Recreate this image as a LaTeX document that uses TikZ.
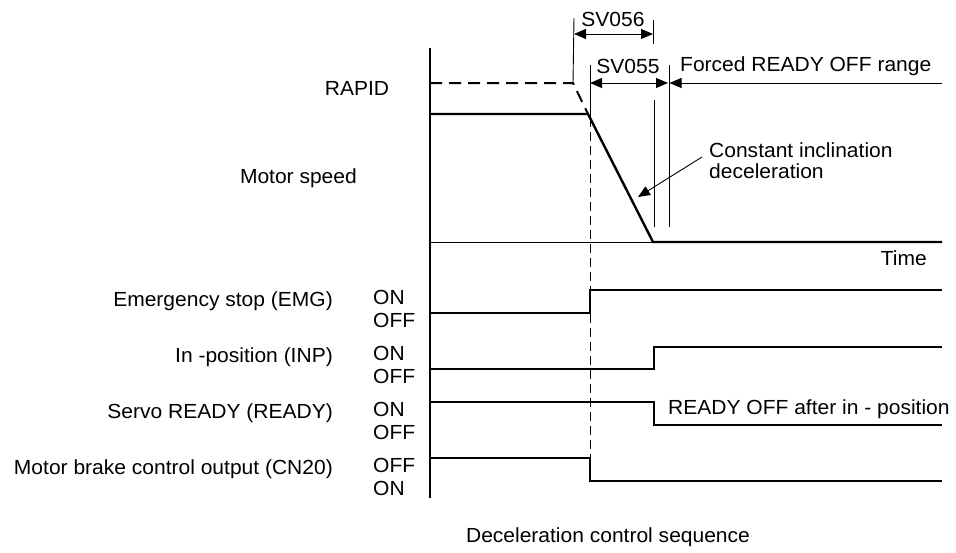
\documentclass[tikz,border=0pt]{standalone}
\usepackage{fontspec}
\setmainfont{Liberation Sans}[FakeStretch=1.03]
\usetikzlibrary{arrows.meta}
\begin{document}
\begin{tikzpicture}[x=1pt,y=-1pt,
  txt/.style={inner sep=0pt,font=\fontsize{20.4}{20.5}\selectfont},
  thin line/.style={line width=0.9pt},
  thick line/.style={line width=2.4pt},
  sig/.style={line width=2.4pt},
  dim/.style={line width=0.9pt,{Triangle[length=12pt,width=10pt]}-{Triangle[length=12pt,width=10pt]}},
  ldim/.style={line width=0.9pt,-{Triangle[length=12pt,width=10pt]}},
]
\useasboundingbox (0,0) rectangle (956,552);
% axes
\coordinate (axtop) at (430,48);
\coordinate (axbot) at (430,498);
\draw[line width=1.4pt] (axtop) -- (axbot);
\coordinate (t0) at (430,242);
\coordinate (tend) at (942,242);
\coordinate (tstop) at (653,242);
\draw[thin line] (t0) -- (tend);
% speed profile
\coordinate (s0) at (430,114);
\coordinate (s1) at (588,114);
\draw[thick line,line join=miter] (s0) -- (s1) -- (tstop) -- (tend);
\coordinate (r0) at (430,83);
\coordinate (r1) at (573,83);
\draw[line width=2pt,dash pattern=on 12pt off 7pt] (r0) -- (r1) -- (s1);
% extension lines
\coordinate (e56a) at (574,18);
\draw[thin line] (e56a) -- (r1);
\coordinate (e56b) at (653,20);
\coordinate (e56c) at (653,44);
\draw[thin line] (e56b) -- (e56c);
\coordinate (e55a) at (590,65);
\coordinate (e55b) at (590,118);
\coordinate (e55c) at (590,458);
\draw[thin line] (e55a) -- (e55b);
\draw[line width=0.8pt,dash pattern=on 9pt off 5pt] (e55b) -- (e55c);
\coordinate (v1a) at (654,100);
\coordinate (v1b) at (654,227);
\coordinate (v2a) at (669,65);
\coordinate (v2b) at (669,227);
\draw[thin line] (v1a) -- (v1b);
\draw[thin line] (v2a) -- (v2b);
% dimension arrows
\coordinate (d56l) at (574,34);
\coordinate (d56r) at (653,34);
\draw[dim] (d56l) -- (d56r);
\coordinate (d55l) at (590,83);
\coordinate (d55r) at (668,83);
\draw[dim] (d55l) -- (d55r);
\coordinate (fr) at (942,83);
\coordinate (fl) at (669.5,83);
\draw[ldim] (fr) -- (fl);
\node[txt] (sv56) at (613,19) {SV056};
\node[txt] (sv55) at (628,66) {SV055};
\node[txt,anchor=west] (forced) at (680,66) {Forced READY OFF range};
% constant inclination
\node[txt,anchor=north west,align=left] (const) at (709,143) {Constant inclination\\deceleration};
\coordinate (ca) at (702,157);
\coordinate (cb) at (638,197);
\draw[ldim] (ca) -- (cb);
% speed labels
\node[txt] (rapid) at (357,88) {RAPID};
\node[txt,anchor=east] (mspeed) at (357,178) {Motor speed};
\node[txt,anchor=east] (time) at (927,258) {Time};
% signals
\draw[sig,line join=miter] (430,313) -- (590,313) -- (590,290) -- (942,290);
\draw[sig,line join=miter] (430,369) -- (654,369) -- (654,347) -- (942,347);
\draw[sig,line join=miter] (430,402) -- (654,402) -- (654,425) -- (942,425);
\draw[sig,line join=miter] (430,458) -- (590,458) -- (590,481) -- (942,481);
% signal labels
\node[txt,anchor=east] (emg) at (333,301) {Emergency stop (EMG)};
\node[txt,anchor=east] (inp) at (333,357) {In -position (INP)};
\node[txt,anchor=east] (rdy) at (333,413) {Servo READY (READY)};
\node[txt,anchor=east] (brk) at (333,469) {Motor brake control output (CN20)};
\node[txt,anchor=west] (on1) at (373,297) {ON};
\node[txt,anchor=west] (off1) at (373,320) {OFF};
\node[txt,anchor=west] (on2) at (373,353) {ON};
\node[txt,anchor=west] (off2) at (373,376) {OFF};
\node[txt,anchor=west] (on3) at (373,409) {ON};
\node[txt,anchor=west] (off3) at (373,432) {OFF};
\node[txt,anchor=west] (off4) at (373,465) {OFF};
\node[txt,anchor=west] (on4) at (373,488) {ON};
\node[txt,anchor=west] (rdyoff) at (668,409) {READY OFF after in - position};
\node[txt] (caption) at (608,537) {Deceleration control sequence};
\end{tikzpicture}
\end{document}
